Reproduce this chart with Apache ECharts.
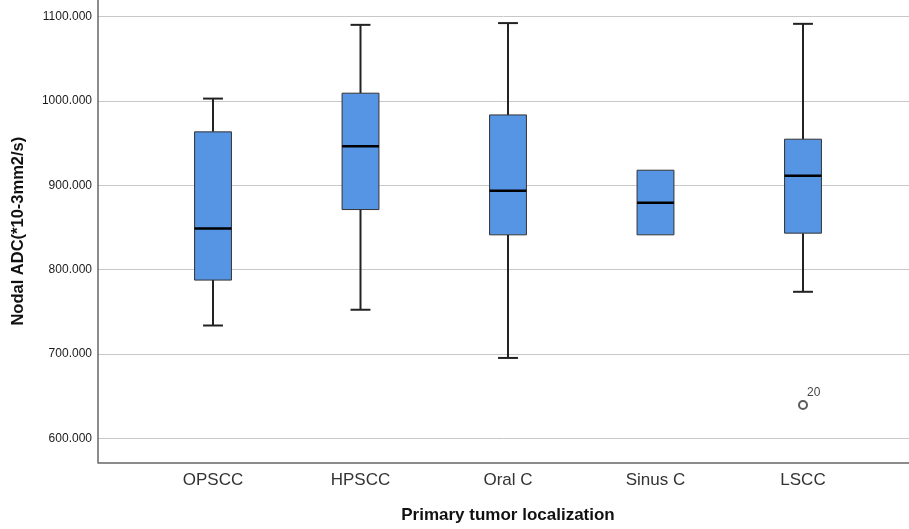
<!DOCTYPE html>
<html>
<head>
<meta charset="utf-8">
<script src="https://cdn.jsdelivr.net/npm/echarts@6/dist/echarts.min.js"></script>
<style>
html,body{margin:0;padding:0;background:#fff;}
#chart{width:909px;height:529px;}
</style>
</head>
<body>
<div id="chart"></div>
<script>
// ---- data ----
var categories = ['OPSCC', 'HPSCC', 'Oral C', 'Sinus C', 'LSCC'];
var whiskerLow  = [733.5, 752.2, 695.0, 841.1, 773.5];
var q1Values    = [787.4, 871.1, 841.1, 841.1, 843.1];
var medians     = [848.6, 946.3, 893.3, 879.1, 911.1];
var q3Values    = [963.3, 1009.2, 983.4, 917.8, 954.6];
var whiskerHigh = [1002.8, 1090.3, 1092.4, 917.8, 1091.5];
var outlierCats = [4];
var outlierVals = [639.1];
var outlierLabels = ['20'];

var yMin = 571.5, yMax = 1119.8;

var boxData = categories.map(function (c, i) {
  return [i, whiskerLow[i], q1Values[i], medians[i], q3Values[i], whiskerHigh[i]];
});
var outlierData = outlierCats.map(function (c, i) {
  return { value: [c, outlierVals[i]], label: { formatter: outlierLabels[i] } };
});

var FONT = 'Liberation Sans, Arial, sans-serif';

function renderBox(params, api) {
  var x = api.value(0);
  var band = api.size([1, 0])[0];
  var bw = band * 0.25;
  var cw = band * 0.135;
  var pLow = api.coord([x, api.value(1)]);
  var pQ1 = api.coord([x, api.value(2)]);
  var pMed = api.coord([x, api.value(3)]);
  var pQ3 = api.coord([x, api.value(4)]);
  var pHigh = api.coord([x, api.value(5)]);
  var cx = pMed[0];
  var children = [];
  var wStyle = { stroke: '#222', lineWidth: 2 };
  if (pHigh[1] < pQ3[1] - 0.5) {
    children.push({ type: 'line', shape: { x1: cx, y1: pHigh[1], x2: cx, y2: pQ3[1] }, style: wStyle });
    children.push({ type: 'line', shape: { x1: cx - cw / 2, y1: pHigh[1], x2: cx + cw / 2, y2: pHigh[1] }, style: wStyle });
  }
  if (pLow[1] > pQ1[1] + 0.5) {
    children.push({ type: 'line', shape: { x1: cx, y1: pQ1[1], x2: cx, y2: pLow[1] }, style: wStyle });
    children.push({ type: 'line', shape: { x1: cx - cw / 2, y1: pLow[1], x2: cx + cw / 2, y2: pLow[1] }, style: wStyle });
  }
  children.push({
    type: 'rect',
    shape: { x: cx - bw / 2, y: pQ3[1], width: bw, height: pQ1[1] - pQ3[1] },
    style: { fill: '#5694E4', stroke: '#333', lineWidth: 1 }
  });
  children.push({
    type: 'line',
    shape: { x1: cx - bw / 2, y1: pMed[1], x2: cx + bw / 2, y2: pMed[1] },
    style: { stroke: '#000', lineWidth: 2.5 }
  });
  return { type: 'group', children: children };
}

var chart = echarts.init(document.getElementById('chart'), null, { renderer: 'canvas' });
chart.setOption({
  backgroundColor: '#fff',
  animation: false,
  grid: [
    { left: 98, right: 0, top: 0, height: 462.3, containLabel: false },
    { left: 139.25, width: 737.5, top: 0, height: 462.3, containLabel: false }
  ],
  xAxis: [
    {
      type: 'value', gridIndex: 0, min: 0, max: 1,
      axisLine: { show: true, lineStyle: { color: '#666', width: 1.5 } },
      axisTick: { show: false }, axisLabel: { show: false }, splitLine: { show: false }
    },
    {
      type: 'category', gridIndex: 1, data: categories,
      axisLine: { show: false }, axisTick: { show: false },
      axisLabel: { fontFamily: FONT, fontSize: 17, color: '#333', margin: 10 },
      name: 'Primary tumor localization', nameLocation: 'middle', nameGap: 45,
      nameTextStyle: { fontFamily: FONT, fontSize: 17, fontWeight: 'bold', color: '#111' }
    }
  ],
  yAxis: [
    {
      type: 'value', gridIndex: 0, min: yMin, max: yMax,
      minInterval: 100, maxInterval: 100,
      axisLine: { show: true, lineStyle: { color: '#666', width: 1.5 } },
      axisTick: { show: false },
      axisLabel: {
        fontFamily: FONT, fontSize: 12, color: '#1a1a1a', margin: 6,
        showMinLabel: false, showMaxLabel: false,
        formatter: function (v) { return v.toFixed(3); }
      },
      splitLine: { show: true, showMinLine: false, showMaxLine: false, lineStyle: { color: '#c8c8c8', width: 1 } },
      name: 'Nodal ADC(*10-3mm2/s)', nameLocation: 'middle', nameGap: 71,
      nameTextStyle: { fontFamily: FONT, fontSize: 16.5, fontWeight: 'bold', color: '#111' }
    },
    {
      type: 'value', gridIndex: 1, min: yMin, max: yMax,
      minInterval: 100, maxInterval: 100,
      axisLine: { show: false }, axisTick: { show: false }, axisLabel: { show: false }, splitLine: { show: false }
    }
  ],
  series: [
    {
      type: 'custom', xAxisIndex: 1, yAxisIndex: 1,
      renderItem: renderBox,
      encode: { x: 0, y: [1, 2, 3, 4, 5] },
      data: boxData, z: 3
    },
    {
      type: 'scatter', xAxisIndex: 1, yAxisIndex: 1,
      symbol: 'emptyCircle', symbolSize: 8,
      itemStyle: { color: '#333', borderColor: '#333', borderWidth: 1 },
      label: { show: true, position: [9, -13], fontFamily: FONT, fontSize: 12, color: '#111' },
      data: outlierData, z: 4
    }
  ]
});
</script>
</body>
</html>
